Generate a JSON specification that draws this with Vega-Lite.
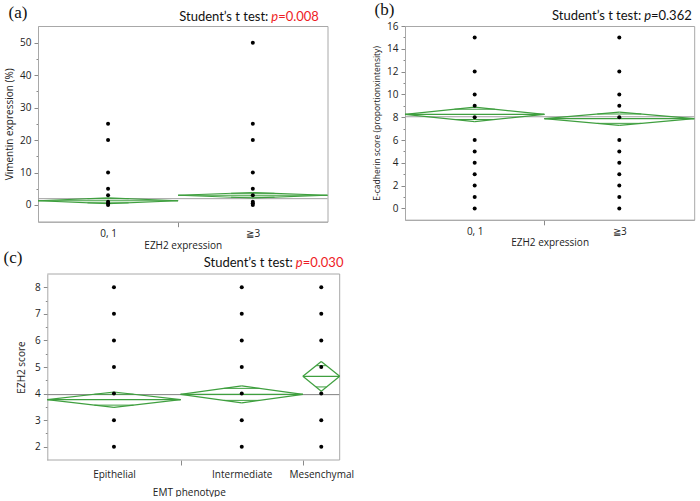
{
  "$schema": "https://vega.github.io/schema/vega-lite/v6.json",
  "background": "white",
  "padding": {"left": 3, "top": 0, "right": 0, "bottom": 0},
  "config": {
    "view": {"stroke": "#a8a8a8", "strokeWidth": 1},
    "axis": {"labelFont": "Open Sans", "labelFontSize": 10, "labelColor": "#222", "labelOverlap": false, "titleFont": "Open Sans", "titleFontSize": 10, "titleFontWeight": "normal", "titleColor": "#222", "domainColor": "#a8a8a8", "tickColor": "#8a8a8a", "grid": false},
    "title": {"font": "Liberation Serif", "fontSize": 17, "fontWeight": "normal", "anchor": "start", "color": "#111"},
    "text": {"font": "Lato", "fontSize": 13, "color": "#111"}
  },
  "datasets": {
    "a_groups": [
      {"group": "0, 1", "left": 0, "center": 24.2, "right": 48.4, "mean": 1.3, "lower": 0.4, "upper": 2.2, "ov_left": 17.1, "ov_right": 31.3, "ov_lower": 0.66, "ov_upper": 1.94},
      {"group": "≧3", "left": 48.4, "center": 74.2, "right": 100, "mean": 3.0, "lower": 2.15, "upper": 3.85, "ov_left": 66.7, "ov_right": 81.7, "ov_lower": 2.4, "ov_upper": 3.6}
    ],
    "a_overall": [{"grand_mean": 1.95}],
    "a_points": [
      {"group": "0, 1", "value": 25}, {"group": "0, 1", "value": 20}, {"group": "0, 1", "value": 10}, {"group": "0, 1", "value": 5}, {"group": "0, 1", "value": 3}, {"group": "0, 1", "value": 1}, {"group": "0, 1", "value": 0.5}, {"group": "0, 1", "value": 0},
      {"group": "≧3", "value": 50}, {"group": "≧3", "value": 25}, {"group": "≧3", "value": 20}, {"group": "≧3", "value": 10}, {"group": "≧3", "value": 5}, {"group": "≧3", "value": 3}, {"group": "≧3", "value": 1}, {"group": "≧3", "value": 0.5}, {"group": "≧3", "value": 0}
    ],
    "b_groups": [
      {"group": "0, 1", "left": 0, "center": 24.1, "right": 48.2, "mean": 8.25, "lower": 7.62, "upper": 8.88, "ov_left": 17.1, "ov_right": 31.1, "ov_lower": 7.8, "ov_upper": 8.7},
      {"group": "≧3", "left": 48.2, "center": 74.1, "right": 100, "mean": 7.87, "lower": 7.29, "upper": 8.45, "ov_left": 66.5, "ov_right": 81.7, "ov_lower": 7.46, "ov_upper": 8.28}
    ],
    "b_overall": [{"grand_mean": 8.04}],
    "b_points": [
      {"group": "0, 1", "value": 0}, {"group": "0, 1", "value": 1}, {"group": "0, 1", "value": 2}, {"group": "0, 1", "value": 3}, {"group": "0, 1", "value": 4}, {"group": "0, 1", "value": 5}, {"group": "0, 1", "value": 6}, {"group": "0, 1", "value": 8}, {"group": "0, 1", "value": 9}, {"group": "0, 1", "value": 10}, {"group": "0, 1", "value": 12}, {"group": "0, 1", "value": 15},
      {"group": "≧3", "value": 0}, {"group": "≧3", "value": 1}, {"group": "≧3", "value": 2}, {"group": "≧3", "value": 3}, {"group": "≧3", "value": 4}, {"group": "≧3", "value": 5}, {"group": "≧3", "value": 6}, {"group": "≧3", "value": 8}, {"group": "≧3", "value": 9}, {"group": "≧3", "value": 10}, {"group": "≧3", "value": 12}, {"group": "≧3", "value": 15}
    ],
    "c_groups": [
      {"group": "Epithelial", "left": 0, "center": 22.8, "right": 45.6, "mean": 3.77, "lower": 3.48, "upper": 4.06, "ov_left": 16.1, "ov_right": 29.5, "ov_lower": 3.565, "ov_upper": 3.975},
      {"group": "Intermediate", "left": 45.6, "center": 66.5, "right": 87.4, "mean": 3.97, "lower": 3.65, "upper": 4.29, "ov_left": 60.4, "ov_right": 72.6, "ov_lower": 3.744, "ov_upper": 4.196},
      {"group": "Mesenchymal", "left": 87.4, "center": 93.7, "right": 100, "mean": 4.65, "lower": 4.09, "upper": 5.21, "ov_left": 91.9, "ov_right": 95.5, "ov_lower": 4.25, "ov_upper": 5.05}
    ],
    "c_overall": [{"grand_mean": 3.96}],
    "c_points": [
      {"group": "Epithelial", "value": 2}, {"group": "Epithelial", "value": 3}, {"group": "Epithelial", "value": 4}, {"group": "Epithelial", "value": 5}, {"group": "Epithelial", "value": 6}, {"group": "Epithelial", "value": 7}, {"group": "Epithelial", "value": 8},
      {"group": "Intermediate", "value": 2}, {"group": "Intermediate", "value": 3}, {"group": "Intermediate", "value": 4}, {"group": "Intermediate", "value": 5}, {"group": "Intermediate", "value": 6}, {"group": "Intermediate", "value": 7}, {"group": "Intermediate", "value": 8},
      {"group": "Mesenchymal", "value": 2}, {"group": "Mesenchymal", "value": 3}, {"group": "Mesenchymal", "value": 4}, {"group": "Mesenchymal", "value": 5}, {"group": "Mesenchymal", "value": 6}, {"group": "Mesenchymal", "value": 7}, {"group": "Mesenchymal", "value": 8}
    ]
  },
  "spacing": -4,
  "vconcat": [
    {
      "spacing": 43,
      "hconcat": [
        {
          "title": {"text": "(a)", "dx": 4, "offset": -11},
          "width": 289.5,
          "height": 195.7,
          "resolve": {"axis": {"y": "independent"}},
          "layer": [
            {
              "data": {"name": "a_overall"},
              "mark": {"type": "rule", "color": "#a0a0a0", "strokeWidth": 1},
              "encoding": {
                "x": {"datum": 0, "type": "quantitative", "scale": {"domain": [0, 100], "nice": false, "zero": false},
                  "axis": {"title": "EZH2 expression", "values": [24.2, 48.4, 74.2], "tickCount": 100, "labelExpr": "datum.value == 24.2 ? '0, 1' : datum.value == 74.2 ? '≧3' : ''", "tickOpacity": {"condition": {"test": "datum.value == 48.4", "value": 1}, "value": 0}, "tickSize": 5, "labelPadding": 2, "titlePadding": 2}},
                "x2": {"datum": 100},
                "y": {"field": "grand_mean", "type": "quantitative", "scale": {"domain": [-5.15, 55.15], "nice": false, "zero": false},
                  "axis": {"orient": "left", "title": null, "labels": false, "domain": false, "values": [5, 15, 25, 35, 45], "tickCount": 100, "tickSize": 2}}
              }
            },
            {
              "layer": [
                {"data": {"name": "a_groups"}, "mark": {"type": "rule", "color": "#3f9f3f", "strokeWidth": 1.2}, "encoding": {"x": {"field": "left", "type": "quantitative"}, "y": {"field": "mean", "type": "quantitative", "scale": {"domain": [-5.15, 55.15], "nice": false, "zero": false}, "axis": {"orient": "left", "title": "Vimentin expression (%)", "values": [0, 10, 20, 30, 40, 50], "tickCount": 100, "format": "d", "tickSize": 4, "labelPadding": 3, "titlePadding": 5}}, "x2": {"field": "center"}, "y2": {"field": "upper"}}},
                {"data": {"name": "a_groups"}, "mark": {"type": "rule", "color": "#3f9f3f", "strokeWidth": 1.2}, "encoding": {"x": {"field": "center", "type": "quantitative"}, "y": {"field": "upper", "type": "quantitative"}, "x2": {"field": "right"}, "y2": {"field": "mean"}}},
                {"data": {"name": "a_groups"}, "mark": {"type": "rule", "color": "#3f9f3f", "strokeWidth": 1.2}, "encoding": {"x": {"field": "right", "type": "quantitative"}, "y": {"field": "mean", "type": "quantitative"}, "x2": {"field": "center"}, "y2": {"field": "lower"}}},
                {"data": {"name": "a_groups"}, "mark": {"type": "rule", "color": "#3f9f3f", "strokeWidth": 1.2}, "encoding": {"x": {"field": "center", "type": "quantitative"}, "y": {"field": "lower", "type": "quantitative"}, "x2": {"field": "left"}, "y2": {"field": "mean"}}},
                {"data": {"name": "a_groups"}, "mark": {"type": "rule", "color": "#3f9f3f", "strokeWidth": 1.2}, "encoding": {"x": {"field": "left", "type": "quantitative"}, "x2": {"field": "right"}, "y": {"field": "mean", "type": "quantitative"}}},
                {"data": {"name": "a_groups"}, "mark": {"type": "rule", "color": "#3f9f3f", "strokeWidth": 1}, "encoding": {"x": {"field": "ov_left", "type": "quantitative"}, "x2": {"field": "ov_right"}, "y": {"field": "ov_upper", "type": "quantitative"}}},
                {"data": {"name": "a_groups"}, "mark": {"type": "rule", "color": "#3f9f3f", "strokeWidth": 1}, "encoding": {"x": {"field": "ov_left", "type": "quantitative"}, "x2": {"field": "ov_right"}, "y": {"field": "ov_lower", "type": "quantitative"}}},
                {
                  "data": {"name": "a_points"},
                  "transform": [{"lookup": "group", "from": {"data": {"name": "a_groups"}, "key": "group", "fields": ["center"]}}],
                  "mark": {"type": "circle", "size": 16, "color": "#000", "opacity": 1},
                  "encoding": {"x": {"field": "center", "type": "quantitative"}, "y": {"field": "value", "type": "quantitative"}}
                },
                {"data": {"values": [{}]}, "mark": {"type": "text", "text": "Student’s t test:", "align": "right", "baseline": "alphabetic", "dx": -3}, "encoding": {"x": {"datum": 80.6, "type": "quantitative"}, "y": {"datum": 56.64, "type": "quantitative"}}},
                {"data": {"values": [{}]}, "mark": {"type": "text", "text": "p", "align": "left", "baseline": "alphabetic", "fontStyle": "italic", "color": "#ee1c25"}, "encoding": {"x": {"datum": 80.6, "type": "quantitative"}, "y": {"datum": 56.64, "type": "quantitative"}}},
                {"data": {"values": [{}]}, "mark": {"type": "text", "text": "=0.008", "align": "left", "baseline": "alphabetic", "color": "#ee1c25"}, "encoding": {"x": {"datum": 82.95, "type": "quantitative"}, "y": {"datum": 56.64, "type": "quantitative"}}}
              ]
            }
          ]
        },
        {
          "title": {"text": "(b)", "dx": 2, "offset": -9},
          "width": 289.2,
          "height": 193.8,
          "resolve": {"axis": {"y": "independent"}},
          "layer": [
            {
              "data": {"name": "b_overall"},
              "mark": {"type": "rule", "color": "#a0a0a0", "strokeWidth": 1},
              "encoding": {
                "x": {"datum": 0, "type": "quantitative", "scale": {"domain": [0, 100], "nice": false, "zero": false},
                  "axis": {"title": "EZH2 expression", "values": [24.1, 48.2, 74.1], "tickCount": 100, "labelExpr": "datum.value == 24.1 ? '0, 1' : datum.value == 74.1 ? '≧3' : ''", "tickOpacity": {"condition": {"test": "datum.value == 48.2", "value": 1}, "value": 0}, "tickSize": 5, "labelPadding": 2, "titlePadding": 1}},
                "x2": {"datum": 100},
                "y": {"field": "grand_mean", "type": "quantitative", "scale": {"domain": [-1, 16], "nice": false, "zero": false},
                  "axis": {"orient": "left", "title": null, "labels": false, "domain": false, "values": [1, 3, 5, 7, 9, 11, 13, 15], "tickCount": 100, "tickSize": 2}}
              }
            },
            {
              "layer": [
                {"data": {"name": "b_groups"}, "mark": {"type": "rule", "color": "#3f9f3f", "strokeWidth": 1.2}, "encoding": {"x": {"field": "left", "type": "quantitative"}, "y": {"field": "mean", "type": "quantitative", "scale": {"domain": [-1, 16], "nice": false, "zero": false}, "axis": {"orient": "left", "title": "E-cadherin score (proportionxintensity)", "titleFontSize": 8.5, "values": [0, 2, 4, 6, 8, 10, 12, 14, 16], "tickCount": 100, "format": "d", "tickSize": 4, "labelPadding": 3, "titlePadding": 5}}, "x2": {"field": "center"}, "y2": {"field": "upper"}}},
                {"data": {"name": "b_groups"}, "mark": {"type": "rule", "color": "#3f9f3f", "strokeWidth": 1.2}, "encoding": {"x": {"field": "center", "type": "quantitative"}, "y": {"field": "upper", "type": "quantitative"}, "x2": {"field": "right"}, "y2": {"field": "mean"}}},
                {"data": {"name": "b_groups"}, "mark": {"type": "rule", "color": "#3f9f3f", "strokeWidth": 1.2}, "encoding": {"x": {"field": "right", "type": "quantitative"}, "y": {"field": "mean", "type": "quantitative"}, "x2": {"field": "center"}, "y2": {"field": "lower"}}},
                {"data": {"name": "b_groups"}, "mark": {"type": "rule", "color": "#3f9f3f", "strokeWidth": 1.2}, "encoding": {"x": {"field": "center", "type": "quantitative"}, "y": {"field": "lower", "type": "quantitative"}, "x2": {"field": "left"}, "y2": {"field": "mean"}}},
                {"data": {"name": "b_groups"}, "mark": {"type": "rule", "color": "#3f9f3f", "strokeWidth": 1.2}, "encoding": {"x": {"field": "left", "type": "quantitative"}, "x2": {"field": "right"}, "y": {"field": "mean", "type": "quantitative"}}},
                {"data": {"name": "b_groups"}, "mark": {"type": "rule", "color": "#3f9f3f", "strokeWidth": 1}, "encoding": {"x": {"field": "ov_left", "type": "quantitative"}, "x2": {"field": "ov_right"}, "y": {"field": "ov_upper", "type": "quantitative"}}},
                {"data": {"name": "b_groups"}, "mark": {"type": "rule", "color": "#3f9f3f", "strokeWidth": 1}, "encoding": {"x": {"field": "ov_left", "type": "quantitative"}, "x2": {"field": "ov_right"}, "y": {"field": "ov_lower", "type": "quantitative"}}},
                {
                  "data": {"name": "b_points"},
                  "transform": [{"lookup": "group", "from": {"data": {"name": "b_groups"}, "key": "group", "fields": ["center"]}}],
                  "mark": {"type": "circle", "size": 16, "color": "#000", "opacity": 1},
                  "encoding": {"x": {"field": "center", "type": "quantitative"}, "y": {"field": "value", "type": "quantitative"}}
                },
                {"data": {"values": [{}]}, "mark": {"type": "text", "text": "Student’s t test:", "align": "right", "baseline": "alphabetic", "dx": -3}, "encoding": {"x": {"datum": 82.7, "type": "quantitative"}, "y": {"datum": 16.5, "type": "quantitative"}}},
                {"data": {"values": [{}]}, "mark": {"type": "text", "text": "p", "align": "left", "baseline": "alphabetic", "fontStyle": "italic"}, "encoding": {"x": {"datum": 82.7, "type": "quantitative"}, "y": {"datum": 16.5, "type": "quantitative"}}},
                {"data": {"values": [{}]}, "mark": {"type": "text", "text": "=0.362", "align": "left", "baseline": "alphabetic"}, "encoding": {"x": {"datum": 85.05, "type": "quantitative"}, "y": {"datum": 16.5, "type": "quantitative"}}}
              ]
            }
          ]
        }
      ]
    },
    {
      "title": {"text": "(c)", "dx": -13, "offset": -10},
      "width": 301.7,
      "height": 186,
      "view": {"stroke": null},
      "resolve": {"axis": {"y": "independent"}},
      "layer": [
        {
          "data": {"name": "c_overall"},
          "mark": {"type": "rule", "color": "#808080", "strokeWidth": 1},
          "encoding": {
            "x": {"datum": 0, "type": "quantitative", "scale": {"domain": [-3.18, 100], "nice": false, "zero": false},
              "axis": {"title": "EMT phenotype", "domain": false, "values": [22.8, 45.6, 66.5, 87.4, 93.7], "tickCount": 100, "labelExpr": "datum.value == 22.8 ? 'Epithelial' : datum.value == 66.5 ? 'Intermediate' : datum.value == 93.7 ? 'Mesenchymal' : ''", "tickOpacity": {"condition": {"test": "datum.value == 45.6 || datum.value == 87.4", "value": 1}, "value": 0}, "tickSize": 5, "labelPadding": 4, "titlePadding": 8}},
            "x2": {"datum": 100},
            "y": {"field": "grand_mean", "type": "quantitative", "scale": {"domain": [1.5, 8.5], "nice": false, "zero": false},
              "axis": {"orient": "left", "offset": -9.3, "title": null, "labels": false, "domain": false, "values": [2.5, 3.5, 4.5, 5.5, 6.5, 7.5], "tickCount": 100, "tickSize": 2}}
          }
        },
        {
          "layer": [
            {"data": {"values": [{}]}, "mark": {"type": "rule", "color": "#a8a8a8", "strokeWidth": 1}, "encoding": {"x": {"datum": 0, "type": "quantitative"}, "x2": {"datum": 100}, "y": {"datum": 8.5, "type": "quantitative", "scale": {"domain": [1.5, 8.5], "nice": false, "zero": false}, "axis": {"orient": "left", "offset": -9.3, "title": "EZH2 score", "values": [2, 3, 4, 5, 6, 7, 8], "tickCount": 100, "format": "d", "tickSize": 4, "labelPadding": 3, "titlePadding": 8}}}},
            {"data": {"values": [{}]}, "mark": {"type": "rule", "color": "#a8a8a8", "strokeWidth": 1}, "encoding": {"x": {"datum": 0, "type": "quantitative"}, "x2": {"datum": 100}, "y": {"datum": 1.5, "type": "quantitative"}}},
            {"data": {"values": [{}]}, "mark": {"type": "rule", "color": "#a8a8a8", "strokeWidth": 1}, "encoding": {"x": {"datum": 100, "type": "quantitative"}, "y": {"datum": 1.5, "type": "quantitative"}, "y2": {"datum": 8.5}}},
            {"data": {"name": "c_groups"}, "mark": {"type": "rule", "color": "#3f9f3f", "strokeWidth": 1.2}, "encoding": {"x": {"field": "left", "type": "quantitative"}, "y": {"field": "mean", "type": "quantitative"}, "x2": {"field": "center"}, "y2": {"field": "upper"}}},
            {"data": {"name": "c_groups"}, "mark": {"type": "rule", "color": "#3f9f3f", "strokeWidth": 1.2}, "encoding": {"x": {"field": "center", "type": "quantitative"}, "y": {"field": "upper", "type": "quantitative"}, "x2": {"field": "right"}, "y2": {"field": "mean"}}},
            {"data": {"name": "c_groups"}, "mark": {"type": "rule", "color": "#3f9f3f", "strokeWidth": 1.2}, "encoding": {"x": {"field": "right", "type": "quantitative"}, "y": {"field": "mean", "type": "quantitative"}, "x2": {"field": "center"}, "y2": {"field": "lower"}}},
            {"data": {"name": "c_groups"}, "mark": {"type": "rule", "color": "#3f9f3f", "strokeWidth": 1.2}, "encoding": {"x": {"field": "center", "type": "quantitative"}, "y": {"field": "lower", "type": "quantitative"}, "x2": {"field": "left"}, "y2": {"field": "mean"}}},
            {"data": {"name": "c_groups"}, "mark": {"type": "rule", "color": "#3f9f3f", "strokeWidth": 1.2}, "encoding": {"x": {"field": "left", "type": "quantitative"}, "x2": {"field": "right"}, "y": {"field": "mean", "type": "quantitative"}}},
            {"data": {"name": "c_groups"}, "mark": {"type": "rule", "color": "#3f9f3f", "strokeWidth": 1}, "encoding": {"x": {"field": "ov_left", "type": "quantitative"}, "x2": {"field": "ov_right"}, "y": {"field": "ov_upper", "type": "quantitative"}}},
            {"data": {"name": "c_groups"}, "mark": {"type": "rule", "color": "#3f9f3f", "strokeWidth": 1}, "encoding": {"x": {"field": "ov_left", "type": "quantitative"}, "x2": {"field": "ov_right"}, "y": {"field": "ov_lower", "type": "quantitative"}}},
            {
              "data": {"name": "c_points"},
              "transform": [{"lookup": "group", "from": {"data": {"name": "c_groups"}, "key": "group", "fields": ["center"]}}],
              "mark": {"type": "circle", "size": 16, "color": "#000", "opacity": 1},
              "encoding": {"x": {"field": "center", "type": "quantitative"}, "y": {"field": "value", "type": "quantitative"}}
            },
            {"data": {"values": [{}]}, "mark": {"type": "text", "text": "Student’s t test:", "align": "right", "baseline": "alphabetic", "dx": -3}, "encoding": {"x": {"datum": 85.0, "type": "quantitative"}, "y": {"datum": 8.78, "type": "quantitative"}}},
            {"data": {"values": [{}]}, "mark": {"type": "text", "text": "p", "align": "left", "baseline": "alphabetic", "fontStyle": "italic", "color": "#ee1c25"}, "encoding": {"x": {"datum": 85.0, "type": "quantitative"}, "y": {"datum": 8.78, "type": "quantitative"}}},
            {"data": {"values": [{}]}, "mark": {"type": "text", "text": "=0.030", "align": "left", "baseline": "alphabetic", "color": "#ee1c25"}, "encoding": {"x": {"datum": 87.33, "type": "quantitative"}, "y": {"datum": 8.78, "type": "quantitative"}}}
          ]
        }
      ]
    }
  ]
}
